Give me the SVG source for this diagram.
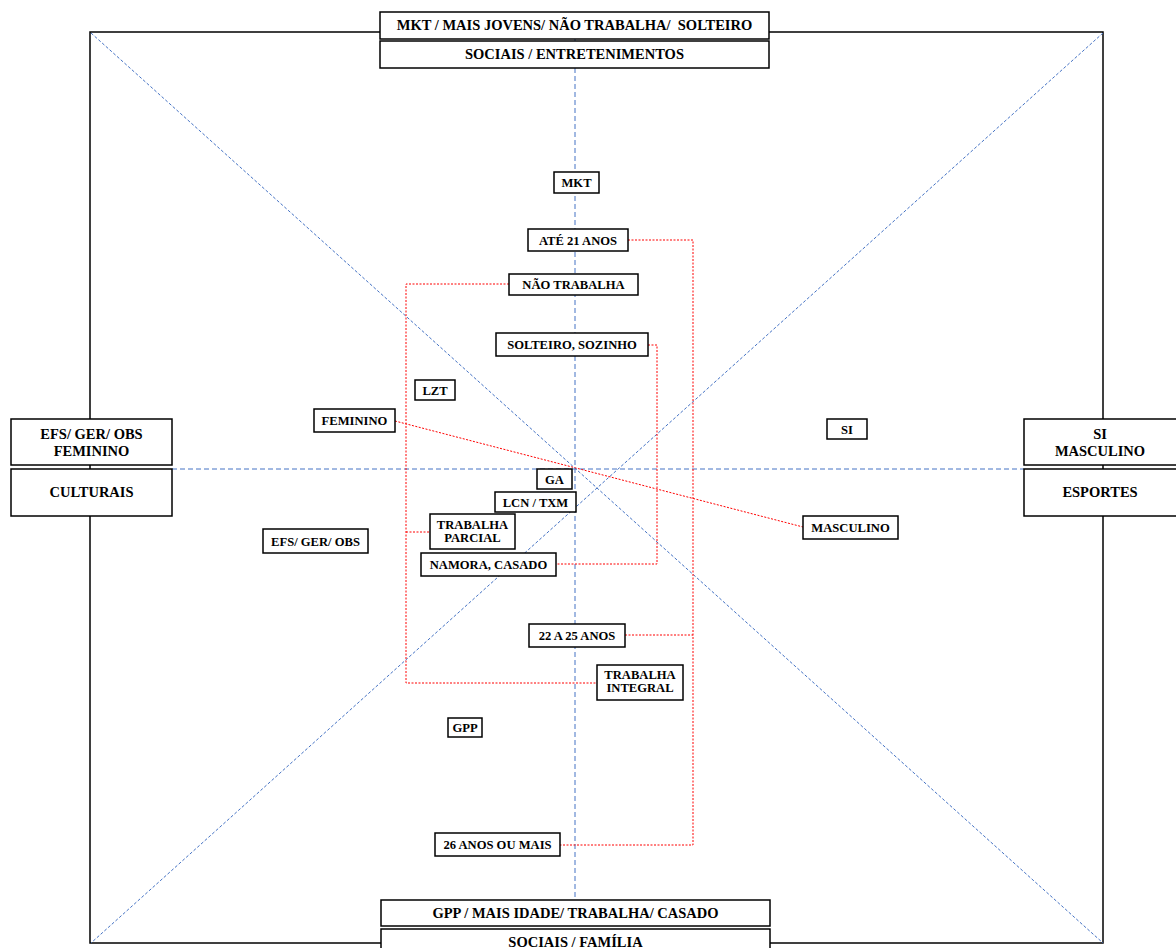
<svg xmlns="http://www.w3.org/2000/svg" width="1176" height="948" viewBox="0 0 1176 948">
<style>
.bg{fill:#fff}
.frame{fill:none;stroke:#000;stroke-width:1.5}
.box{fill:#fff;stroke:#000;stroke-width:1.5}
.big{font-family:"Liberation Serif","DejaVu Serif",serif;font-weight:bold;font-size:14.5px;text-anchor:middle;fill:#000;white-space:pre}
.sm{font-family:"Liberation Serif","DejaVu Serif",serif;font-weight:bold;font-size:12.6px;text-anchor:middle;fill:#000}
.axis{fill:none;stroke:#4472C4;stroke-width:1;stroke-dasharray:5 3}
.diag{fill:none;stroke:#4472C4;stroke-width:1;stroke-dasharray:3 2}
.red{fill:none;stroke:#FF0000;stroke-width:1;stroke-dasharray:2 1.5}
</style>
<rect class="bg" x="0" y="0" width="1176" height="948"/>
<rect class="frame" x="90" y="32" width="1013" height="911"/>
<g id="connectors">
  <line class="diag" x1="91" y1="33" x2="1103" y2="943"/>
  <line class="diag" x1="1103" y1="33" x2="91" y2="943"/>
  <line class="axis" x1="575" y1="12" x2="575" y2="926"/>
  <line class="axis" x1="172" y1="469" x2="1024" y2="469"/>
  <polyline class="red" points="628,240 693,240 693,845 560,845"/>
  <line class="red" x1="625" y1="635" x2="693" y2="635"/>
  <polyline class="red" points="648,345 657,345 657,564 556,564"/>
  <polyline class="red" points="509,284 406,284 406,683 597,683"/>
  <line class="red" x1="406" y1="532" x2="430" y2="532"/>
  <line class="red" x1="395" y1="421" x2="803" y2="527"/>
</g>
<g id="top1"><rect class="box" x="380" y="12" width="389" height="27"/><text class="big" x="574.5" y="30" xml:space="preserve">MKT / MAIS JOVENS/ NÃO TRABALHA/  SOLTEIRO</text></g>
<g id="top2"><rect class="box" x="380" y="41" width="389" height="27"/><text class="big" x="574.5" y="59">SOCIAIS / ENTRETENIMENTOS</text></g>
<g id="bottom1"><rect class="box" x="381" y="900" width="389" height="26"/><text class="big" x="575.5" y="918">GPP / MAIS IDADE/ TRABALHA/ CASADO</text></g>
<g id="bottom2"><rect class="box" x="381" y="929" width="389" height="27"/><text class="big" x="575.5" y="947">SOCIAIS / FAMÍLIA</text></g>
<g id="left1"><rect class="box" x="11" y="419" width="161" height="46"/><text class="big" x="91.5" y="439">EFS/ GER/ OBS</text><text class="big" x="91.5" y="456">FEMININO</text></g>
<g id="left2"><rect class="box" x="11" y="469" width="161" height="47"/><text class="big" x="91.5" y="497">CULTURAIS</text></g>
<g id="right1"><rect class="box" x="1024" y="419" width="160" height="46"/><text class="big" x="1100" y="439">SI</text><text class="big" x="1100" y="456">MASCULINO</text></g>
<g id="right2"><rect class="box" x="1024" y="469" width="160" height="47"/><text class="big" x="1100" y="497">ESPORTES</text></g>
<g id="n-mkt"><rect class="box" x="554" y="172" width="45" height="21"/><text class="sm" x="576.5" y="187">MKT</text></g>
<g id="n-ate21"><rect class="box" x="528" y="229" width="100" height="22"/><text class="sm" x="578" y="244.5">ATÉ 21 ANOS</text></g>
<g id="n-naotrab"><rect class="box" x="509" y="274" width="129" height="21"/><text class="sm" x="573.5" y="289">NÃO TRABALHA</text></g>
<g id="n-solteiro"><rect class="box" x="496" y="333" width="152" height="23"/><text class="sm" x="572" y="349">SOLTEIRO, SOZINHO</text></g>
<g id="n-lzt"><rect class="box" x="415" y="380" width="40" height="20"/><text class="sm" x="435" y="394.5">LZT</text></g>
<g id="n-feminino"><rect class="box" x="314" y="409" width="81" height="23"/><text class="sm" x="354.5" y="425">FEMININO</text></g>
<g id="n-si"><rect class="box" x="827" y="419" width="40" height="20"/><text class="sm" x="847" y="433.5">SI</text></g>
<g id="n-ga"><rect class="box" x="537" y="469" width="35" height="20"/><text class="sm" x="554.5" y="483.5">GA</text></g>
<g id="n-lcn"><rect class="box" x="495" y="492" width="81" height="20"/><text class="sm" x="535.5" y="506.5">LCN / TXM</text></g>
<g id="n-parcial"><rect class="box" x="430" y="514" width="85" height="35"/><text class="sm" x="472.5" y="529">TRABALHA</text><text class="sm" x="472.5" y="542">PARCIAL</text></g>
<g id="n-efs"><rect class="box" x="263" y="529" width="105" height="24"/><text class="sm" x="315.5" y="545.5">EFS/ GER/ OBS</text></g>
<g id="n-namora"><rect class="box" x="421" y="553" width="135" height="23"/><text class="sm" x="488.5" y="569">NAMORA, CASADO</text></g>
<g id="n-masculino"><rect class="box" x="803" y="516" width="95" height="23"/><text class="sm" x="850.5" y="532">MASCULINO</text></g>
<g id="n-22a25"><rect class="box" x="529" y="624" width="96" height="23"/><text class="sm" x="577" y="640">22 A 25 ANOS</text></g>
<g id="n-integral"><rect class="box" x="597" y="665" width="86" height="35"/><text class="sm" x="640" y="679">TRABALHA</text><text class="sm" x="640" y="692">INTEGRAL</text></g>
<g id="n-gpp"><rect class="box" x="448" y="718" width="34" height="19"/><text class="sm" x="465" y="732">GPP</text></g>
<g id="n-26"><rect class="box" x="435" y="833" width="125" height="23"/><text class="sm" x="497.5" y="849">26 ANOS OU MAIS</text></g>
</svg>
